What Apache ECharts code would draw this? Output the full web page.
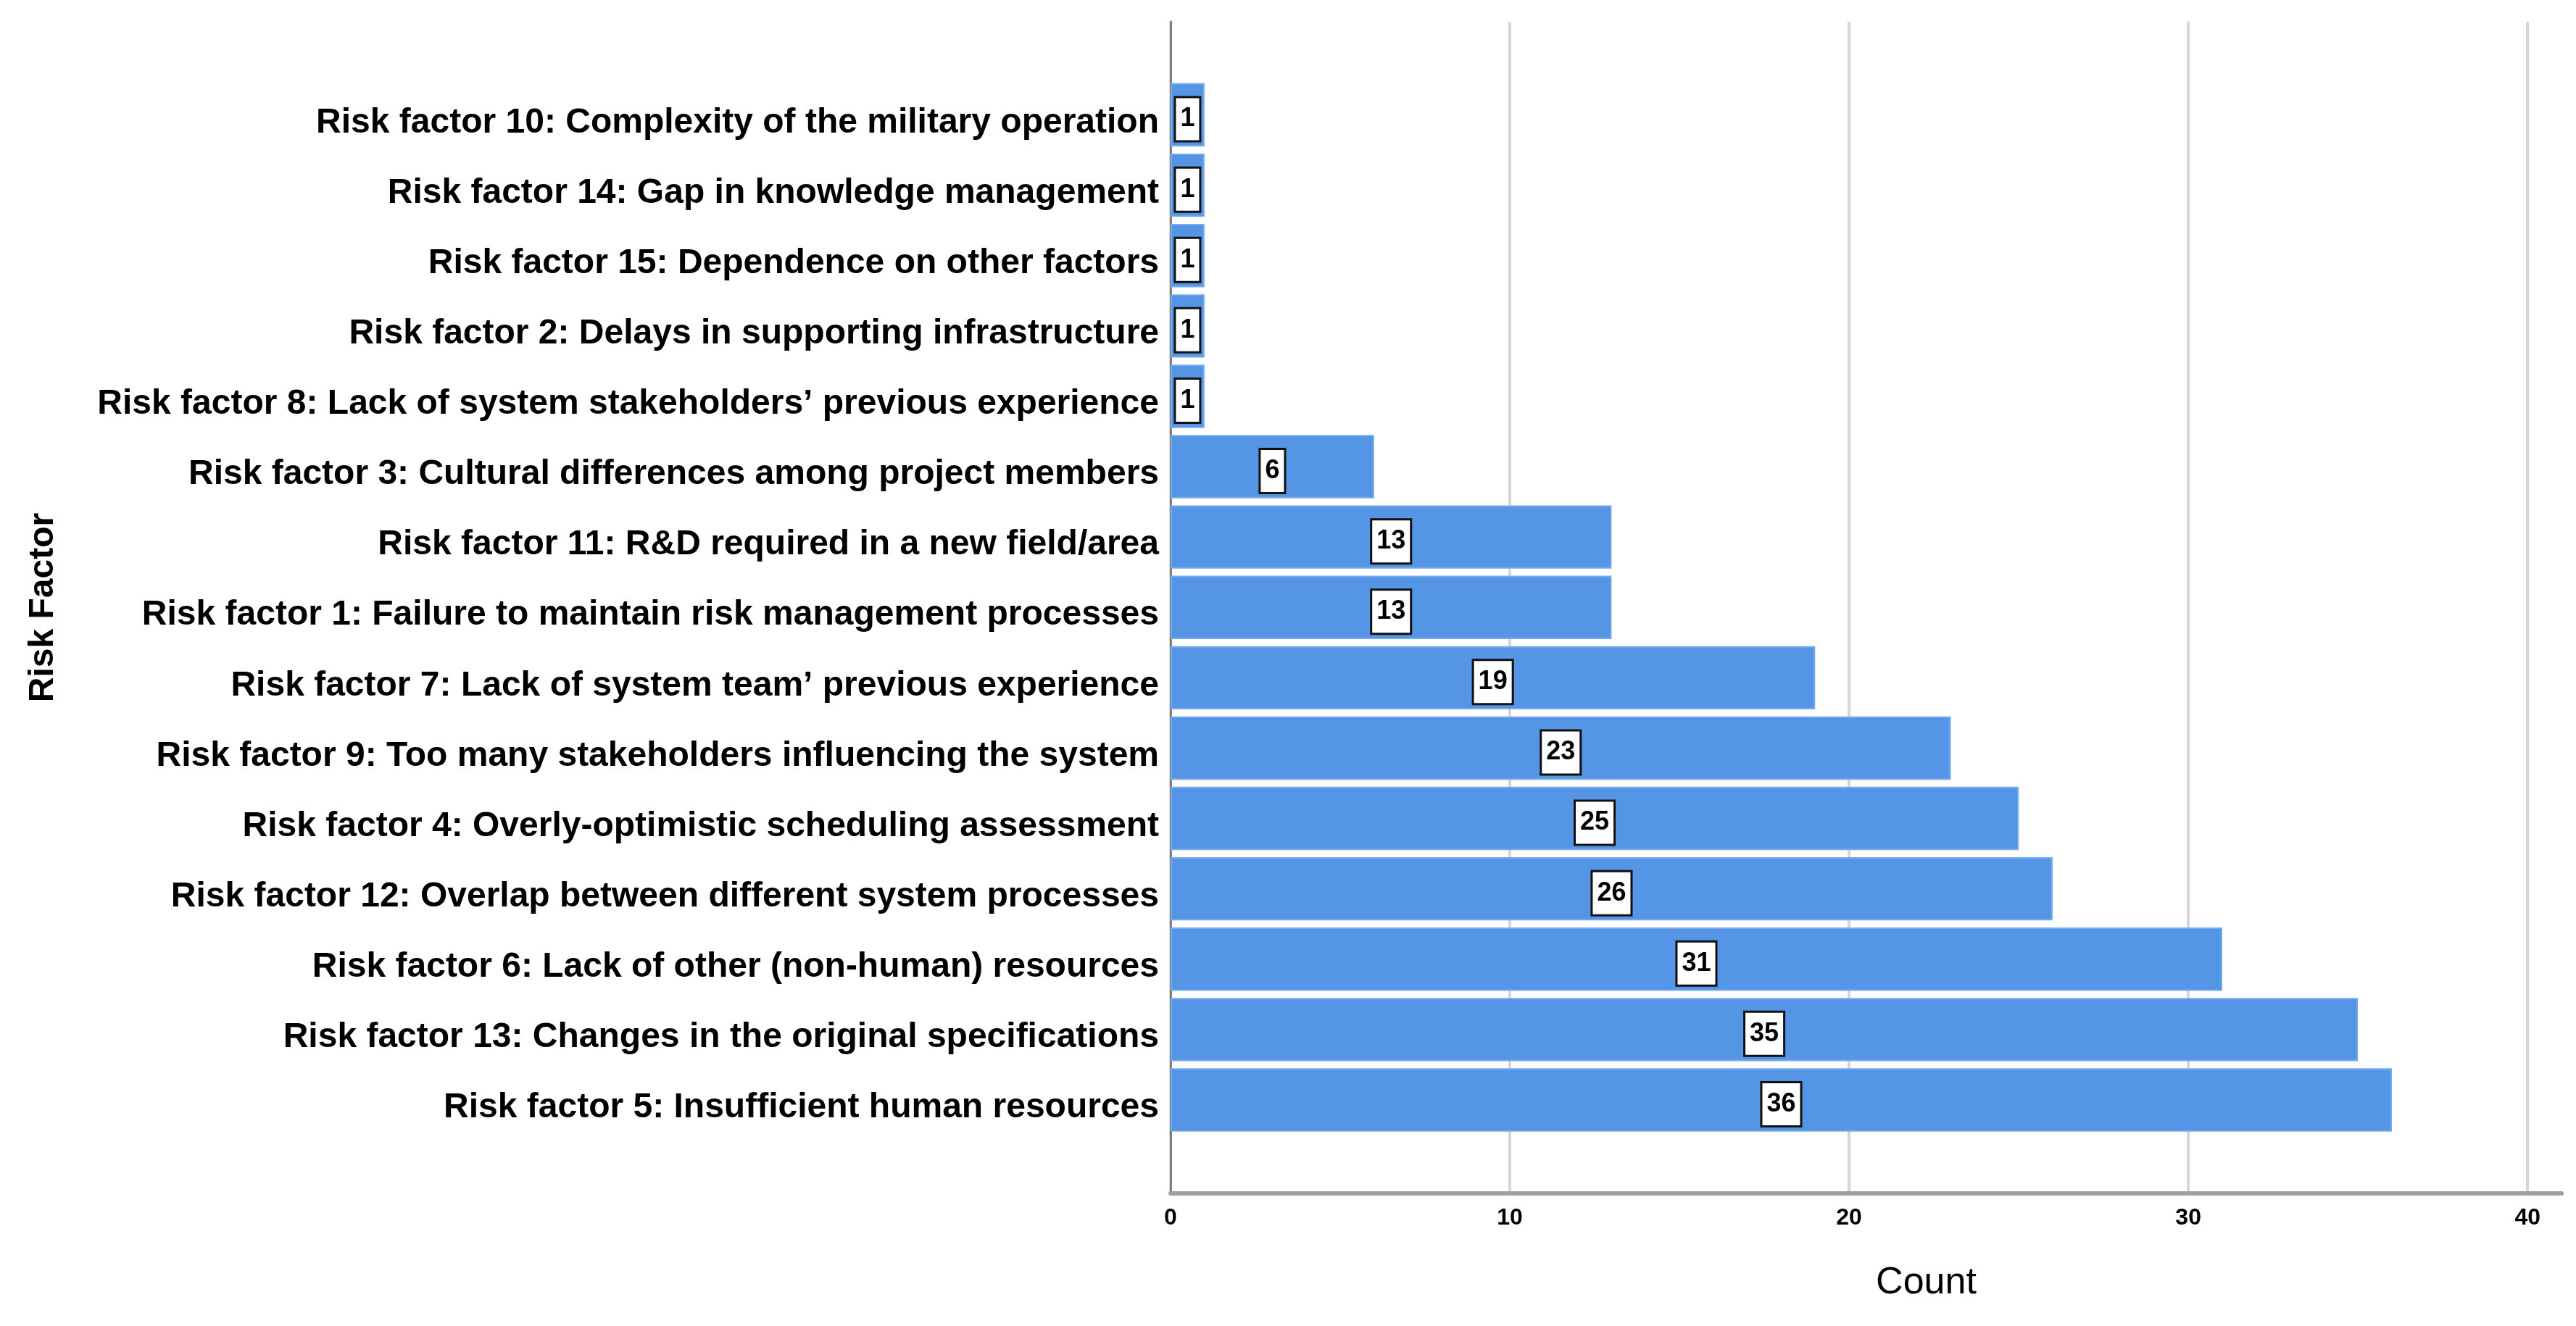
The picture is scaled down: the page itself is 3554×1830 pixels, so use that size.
<!DOCTYPE html>
<html>
<head>
<meta charset="utf-8">
<script src="https://cdn.jsdelivr.net/npm/echarts@6/dist/echarts.min.js"></script>
<style>
html,body{margin:0;padding:0;background:#fff;}
#chart{width:3554px;height:1830px;}
</style>
</head>
<body>
<div id="chart"></div>
<script>
const categories = [
  "Risk factor 10: Complexity of the military operation",
  "Risk factor 14: Gap in knowledge management",
  "Risk factor 15: Dependence on other factors",
  "Risk factor 2: Delays in supporting infrastructure",
  "Risk factor 8: Lack of system stakeholders\u2019 previous experience",
  "Risk factor 3: Cultural differences among project members",
  "Risk factor 11: R&D required in a new field/area",
  "Risk factor 1: Failure to maintain risk management processes",
  "Risk factor 7: Lack of system team\u2019 previous experience",
  "Risk factor 9: Too many stakeholders influencing the system",
  "Risk factor 4: Overly-optimistic scheduling assessment",
  "Risk factor 12: Overlap between different system processes",
  "Risk factor 6: Lack of other (non-human) resources",
  "Risk factor 13: Changes in the original specifications",
  "Risk factor 5: Insufficient human resources"
];
const counts = [1, 1, 1, 1, 1, 6, 13, 13, 19, 23, 25, 26, 31, 35, 36];
const xTicks = [0, 10, 20, 30, 40];

const FONT = "'Liberation Sans', Arial, sans-serif";
const chart = echarts.init(document.getElementById('chart'), null, {renderer: 'canvas', devicePixelRatio: 1});

chart.setOption({
  backgroundColor: '#ffffff',
  animation: false,
  grid: [
    {left: 1615, right: 20, top: 30, bottom: 183, containLabel: false},
    {left: 1615, right: 20, top: 110, bottom: 263.5, containLabel: false}
  ],
  xAxis: [
    {
      type: 'value', gridIndex: 0, min: 0, max: 41, interval: 10,
      name: 'Count', nameLocation: 'middle', nameGap: 98,
      nameTextStyle: {fontFamily: FONT, fontSize: 52, color: '#000', fontWeight: 'normal', padding: [0, 0, 0, 166]},
      axisLine: {show: true, lineStyle: {color: '#a0a0a0', width: 6}},
      axisTick: {show: false},
      axisLabel: {
        show: true, margin: 18, fontFamily: FONT, fontSize: 32, fontWeight: 'bold', color: '#000',
        showMaxLabel: false,
        formatter: function (v) { return xTicks.indexOf(v) >= 0 ? String(v) : ''; }
      },
      splitLine: {show: true, showMaxLine: false, lineStyle: {color: '#d6d6d6', width: 4}}
    },
    {
      type: 'value', gridIndex: 1, min: 0, max: 41, interval: 10,
      axisLine: {show: false}, axisTick: {show: false}, axisLabel: {show: false}, splitLine: {show: false}
    }
  ],
  yAxis: [
    {
      type: 'value', gridIndex: 0, min: 0, max: 1,
      name: 'Risk Factor', nameLocation: 'middle', nameGap: 1531, nameRotate: 90,
      nameTextStyle: {fontFamily: FONT, fontSize: 48, color: '#000', fontWeight: 'bold'},
      axisLine: {show: true, lineStyle: {color: '#808080', width: 3}},
      axisTick: {show: false}, axisLabel: {show: false}, splitLine: {show: false}
    },
    {
      type: 'category', gridIndex: 1, data: categories, inverse: true,
      axisLine: {show: false}, axisTick: {show: false},
      axisLabel: {
        show: true, margin: 16, interval: 0,
        formatter: function (v) { return '{a|' + v + '}'; },
        rich: {
          a: {fontFamily: FONT, fontSize: 48, fontWeight: 'bold', color: '#000', padding: [22, 0, 0, 0]}
        }
      },
      splitLine: {show: false}
    }
  ],
  series: [
    {
      type: 'bar', xAxisIndex: 1, yAxisIndex: 1, data: counts,
      barCategoryGap: '10%',
      itemStyle: {color: '#5595e5', borderColor: '#74aaee', borderWidth: 2},
      label: {
        show: true, position: 'inside', offset: [0, 6], fontFamily: FONT, fontSize: 36, fontWeight: 'bold', color: '#000',
        backgroundColor: '#ffffff', borderColor: '#111', borderWidth: 3, padding: [11, 6, 11, 6]
      }
    }
  ]
});
</script>
</body>
</html>
